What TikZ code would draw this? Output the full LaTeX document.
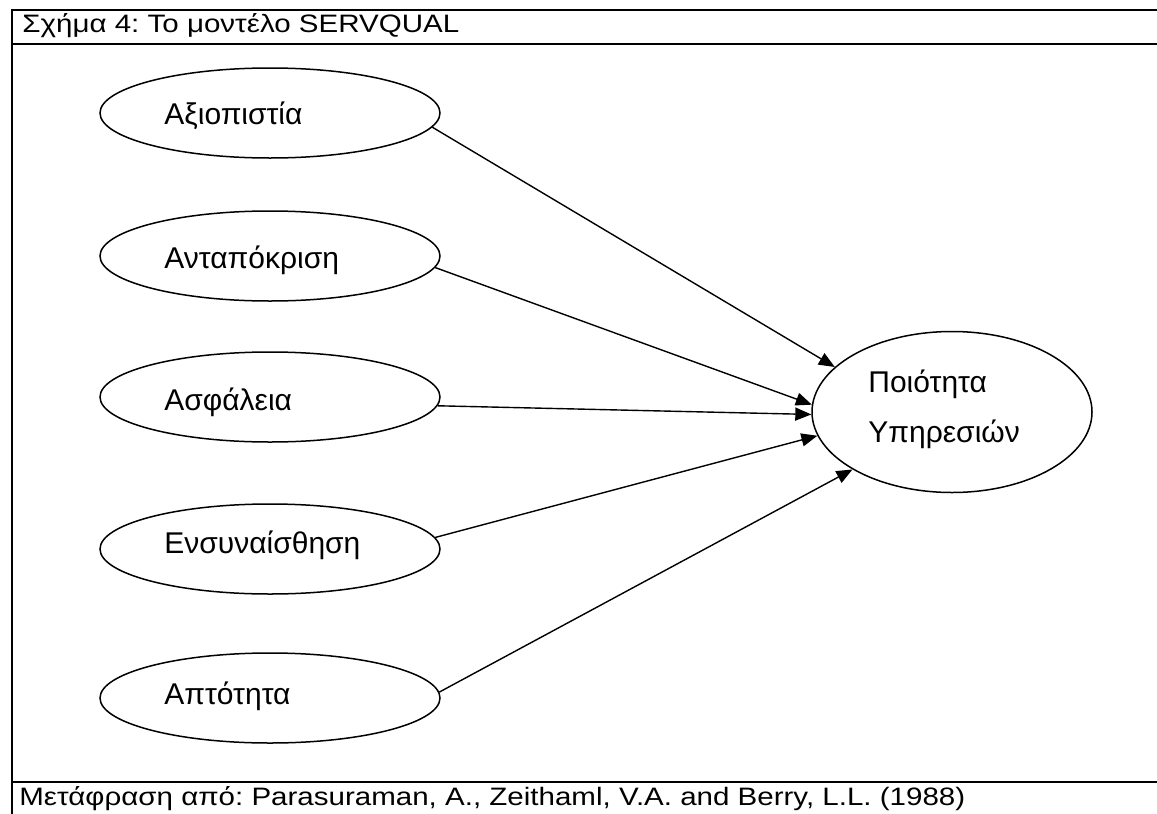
\documentclass[tikz,border=0pt]{standalone}
\usepackage{fontspec}
\setmainfont{Liberation Sans}
\frenchspacing
\usetikzlibrary{shapes.geometric,arrows.meta}
\tikzstyle{ell}=[draw,ellipse,line width=0.75pt,minimum width=170pt,minimum height=45pt,inner sep=0pt]
\tikzstyle{lbl}=[anchor=base west,inner sep=0pt,font=\fontsize{15}{18}\selectfont]
\tikzstyle{hdr}=[anchor=base west,inner sep=0pt,font=\fontsize{12}{14}\selectfont]
\tikzstyle{arr}=[line width=0.7pt,-{Triangle[length=8pt,width=6.5pt]}]
\newcommand{\wide}[1]{\scalebox{1.23}[1.05]{#1}}

\begin{document}
\begin{tikzpicture}[x=0.5pt,y=-0.5pt]
\useasboundingbox (0,0) rectangle (1157,814);
% frame of the table
\draw[line width=1pt] (12,814) |- (1157,10);
\draw[line width=1pt] (12,44) -- (1157,44);
\draw[line width=1pt] (12,782) -- (1157,782);
\node [hdr] (title) at (22,32) {\wide{Σχήμα 4: Το μοντέλο SERVQUAL}};
\node [hdr] (source) at (19,805) {\wide{Μετάφραση από: Parasuraman, A., Zeithaml, V.A. and Berry, L.L. (1988)}};

% dimensions
\node [ell] (axio) at (270,113) {};
\node [lbl] (axio-t) at (164,124) {Αξιοπιστία};
\node [ell] (anta) at (270,256) {};
\node [lbl] (anta-t) at (164,268) {Ανταπόκριση};
\node [ell] (asfa) at (270,397) {};
\node [lbl] (asfa-t) at (164,410) {Ασφάλεια};
\node [ell] (ensy) at (270,549) {};
\node [lbl] (ensy-t) at (164,553) {Ενσυναίσθηση};
\node [ell] (apto) at (270,698) {};
\node [lbl] (apto-t) at (164,704) {Απτότητα};

% service quality
\node [ell,minimum width=140pt,minimum height=80.5pt] (poio) at (952,412) {};
\node [lbl] (poio-t1) at (868,392) {Ποιότητα};
\node [lbl] (poio-t2) at (868,442) {Υπηρεσιών};

\draw [arr] (axio.-5) -- (poio.159);
\draw [arr] (anta.-4) -- (poio.177);
\draw [arr] (asfa.-3) -- (poio.181);
\draw [arr] (ensy.4) -- (poio.190);
\draw [arr] (apto.2) -- (poio.210);
\end{tikzpicture}
\end{document}
